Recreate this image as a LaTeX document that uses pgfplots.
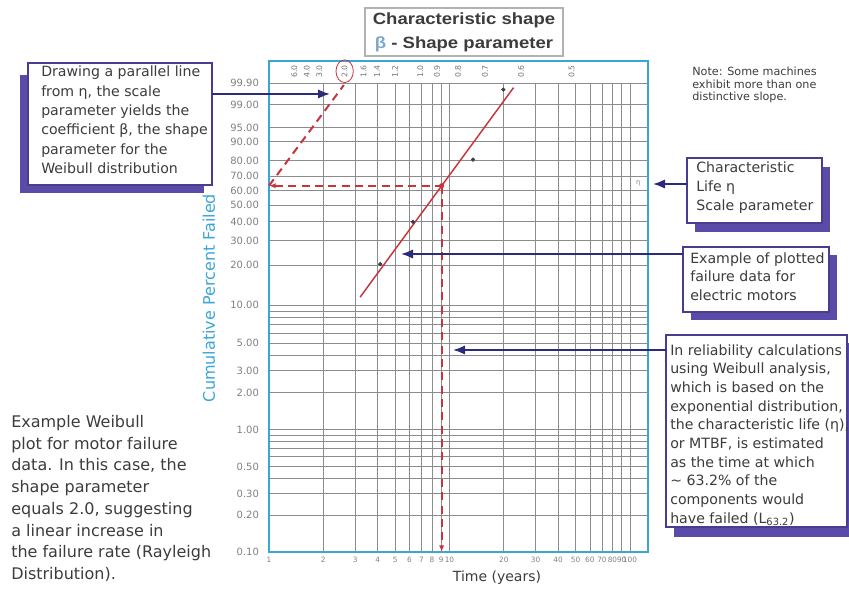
\documentclass[border=0pt]{standalone}
\usepackage{pgfplots}
\pgfplotsset{compat=1.18}
\usepackage{fontspec}
\setmainfont{DejaVu Sans}
\newfontfamily\titlefont{Liberation Sans}[FakeStretch=1.14]
\usetikzlibrary{arrows.meta}
\definecolor{axisblue}{HTML}{3AA6D6}
\definecolor{gridgray}{HTML}{8C8C8C}
\definecolor{fitred}{HTML}{C9343C}
\definecolor{navy}{HTML}{2C2A7C}
\definecolor{boxborder}{HTML}{4B3C8F}
\definecolor{shadowc}{HTML}{5B4BA8}
\definecolor{txt}{HTML}{3C3C3C}
\definecolor{betablue}{HTML}{7FA8C8}

\begin{document}
\begin{tikzpicture}[x=0.75pt,y=0.75pt]
\path[use as bounding box] (0,0) rectangle (849,592);

% title box
\draw[gray!60, line width=0.9pt, fill=white] (365,536) rectangle (563,584);
\node[text=txt, font=\titlefont\bfseries\fontsize{12.2}{14}\selectfont] at (464,572) {Characteristic shape};
\node[text=txt, font=\titlefont\bfseries\fontsize{12.2}{14}\selectfont] at (464,548) {{\color{betablue}β} - Shape parameter};

\begin{axis}[
  at={(201.75pt,30pt)}, anchor=south west,
  scale only axis, width=284.25pt, height=368.25pt,
  xmode=log, xmin=1, xmax=125.9,
  ymin=-6.9073, ymax=2.353,
  clip=false,
  axis line style={draw=axisblue, line width=1.8pt},
  major tick length=0pt,
  xtick={1,2,3,4,5,6,7,8,9,10,20,30,40,50,60,70,80,90,100},
  xticklabels={1,2,3,4,5,6,7,8,9,10,20,30,40,50,60,70,80,90,100},
  ytick={-6.9073,-6.2136,-5.8076,-5.5195,-5.2958,-5.1130,-4.9583,-4.8243,-4.7059,-4.6001,-3.9019,-3.4913,-3.1985,-2.9702,-2.7827,-2.6232,-2.4843,-2.3612,-2.2504,-1.4999,-1.0309,-0.6717,-0.3665,-0.0874,0.1856,0.4759,0.8340,1.0972,1.5272,1.9326},
  yticklabels={0.10,0.20,0.30,{},0.50,{},{},{},{},1.00,2.00,3.00,{},5.00,{},{},{},{},10.00,20.00,30.00,40.00,50.00,60.00,70.00,80.00,90.00,95.00,99.00,99.90},
  ymajorgrids,
  grid style={draw=gridgray, line width=0.6pt},
  xticklabel style={font=\fontsize{5.5}{6}\selectfont, text=gray},
  yticklabel style={font=\fontsize{7.5}{8}\selectfont, text=gray, anchor=east, xshift=-4pt},
]
% vertical grid lines (stop at the 99.9 line)
\pgfplotsinvokeforeach{2,3,4,5,6,7,8,9,10,20,30,40,50,60,70,80,90,100}{
  \draw[gridgray, line width=0.6pt] (axis cs:#1,-6.9073) -- (axis cs:#1,1.9326);
}
% beta scale labels
\node[rotate=90, text=gray!90!black, font=\fontsize{5.8}{6}\selectfont] at (axis cs:1.380,2.16) {6.0};
\node[rotate=90, text=gray!90!black, font=\fontsize{5.8}{6}\selectfont] at (axis cs:1.620,2.16) {4.0};
\node[rotate=90, text=gray!90!black, font=\fontsize{5.8}{6}\selectfont] at (axis cs:1.903,2.16) {3.0};
\node[rotate=90, text=gray!90!black, font=\fontsize{5.8}{6}\selectfont] at (axis cs:2.625,2.16) {2.0};
\node[rotate=90, text=gray!90!black, font=\fontsize{5.8}{6}\selectfont] at (axis cs:3.341,2.16) {1.6};
\node[rotate=90, text=gray!90!black, font=\fontsize{5.8}{6}\selectfont] at (axis cs:3.969,2.16) {1.4};
\node[rotate=90, text=gray!90!black, font=\fontsize{5.8}{6}\selectfont] at (axis cs:4.995,2.16) {1.2};
\node[rotate=90, text=gray!90!black, font=\fontsize{5.8}{6}\selectfont] at (axis cs:6.890,2.16) {1.0};
\node[rotate=90, text=gray!90!black, font=\fontsize{5.8}{6}\selectfont] at (axis cs:8.538,2.16) {0.9};
\node[rotate=90, text=gray!90!black, font=\fontsize{5.8}{6}\selectfont] at (axis cs:11.16,2.16) {0.8};
\node[rotate=90, text=gray!90!black, font=\fontsize{5.8}{6}\selectfont] at (axis cs:15.75,2.16) {0.7};
\node[rotate=90, text=gray!90!black, font=\fontsize{5.8}{6}\selectfont] at (axis cs:24.94,2.16) {0.6};
\node[rotate=90, text=gray!90!black, font=\fontsize{5.8}{6}\selectfont] at (axis cs:47.47,2.16) {0.5};
\draw[fitred, line width=0.6pt] (axis cs:2.625,2.16) ellipse [x radius=6.5pt, y radius=8.5pt];
\node[text=gray, font=\fontsize{5}{6}\selectfont] at (axis cs:111,0.05) {η};

% dashed construction lines
\addplot[fitred, line width=1.5pt, dash pattern=on 6pt off 4pt, {Latex[length=5pt,width=4pt]}-] coordinates {(1,0) (9.05,0)};
\addplot[fitred, line width=1.5pt, dash pattern=on 6pt off 4pt, -{Latex[length=5pt,width=4pt]}] coordinates {(9.05,0) (9.05,-6.9073)};
\addplot[fitred, line width=1.5pt, dash pattern=on 6pt off 4pt] coordinates {(1,0) (2.6,1.9)};
% fitted line
\addplot[fitred, line width=1.1pt, no markers] coordinates {(3.20,-2.100) (22.65,1.851)};
% failure data
\addplot[only marks, mark=*, mark size=1.4pt, black!75] coordinates {(4.14,-1.478) (6.28,-0.681) (13.5,0.495) (19.88,1.814)};
\addplot[only marks, mark=*, mark size=1.7pt, fitred] coordinates {(9.05,0)};
\end{axis}

% axis titles
\node[rotate=90, text=axisblue, font=\fontsize{12}{14}\selectfont] at (209,294) {Cumulative Percent Failed};
\node[text=txt, font=\fontsize{10.5}{12}\selectfont] at (497,14) {Time (years)};

% top-left box
\fill[shadowc] (20,517) rectangle (204,399);
\draw[boxborder, line width=1.5pt, fill=white] (28,529) rectangle (212,407);
\node[anchor=north west, inner sep=0, align=left, text=txt, font=\fontsize{10.6}{14.5}\selectfont] at (41,526) {Drawing a parallel line\\from η, the scale\\parameter yields the\\coefficient β, the shape\\parameter for the\\Weibull distribution};
\draw[navy, line width=1.3pt, -{Latex[length=9pt,width=7pt]}] (212,498) -- (330,498);

% note
\node[anchor=north west, inner sep=0, align=left, text=txt, font=\fontsize{8.4}{9.2}\selectfont] at (692,525) {Note: Some machines\\exhibit more than one\\distinctive slope.};

% characteristic life box
\fill[shadowc] (695,425) rectangle (830,360);
\draw[boxborder, line width=1.5pt, fill=white] (687,434) rectangle (822,369);
\node[anchor=north west, inner sep=0, align=left, text=txt, font=\fontsize{10.6}{14}\selectfont] at (696,430) {Characteristic\\Life η\\Scale parameter};
\draw[navy, line width=1.3pt, -{Latex[length=9pt,width=7pt]}] (687,408) -- (653,408);

% example box
\fill[shadowc] (691,337) rectangle (837,272);
\draw[boxborder, line width=1.5pt, fill=white] (683,345) rectangle (829,280);
\node[anchor=north west, inner sep=0, align=left, text=txt, font=\fontsize{10.6}{14}\selectfont] at (690,340) {Example of plotted\\failure data for\\electric motors};
\draw[navy, line width=1.3pt, -{Latex[length=9pt,width=7pt]}] (683,338) -- (401,338);

% reliability box
\fill[shadowc] (674,249) rectangle (849,55);
\draw[boxborder, line width=1.5pt, fill=white] (666,257) rectangle (847,65);
\node[anchor=north west, inner sep=0, align=left, text=txt, font=\fontsize{10.6}{14}\selectfont] at (670,248) {In reliability calculations\\using Weibull analysis,\\which is based on the\\exponential distribution,\\the characteristic life (η),\\or MTBF, is estimated\\as the time at which\\\textasciitilde\ 63.2\% of the\\components would\\have failed (L\textsubscript{63.2})};
\draw[navy, line width=1.3pt, -{Latex[length=9pt,width=7pt]}] (666,242) -- (453,242);

% left text
\node[anchor=north west, inner sep=0, align=left, text=txt, font=\fontsize{12}{16.3}\selectfont] at (11,177) {Example Weibull\\plot for motor failure\\data. In this case, the\\shape parameter\\equals 2.0, suggesting\\a linear increase in\\the failure rate (Rayleigh\\Distribution).};
\end{tikzpicture}
\end{document}
